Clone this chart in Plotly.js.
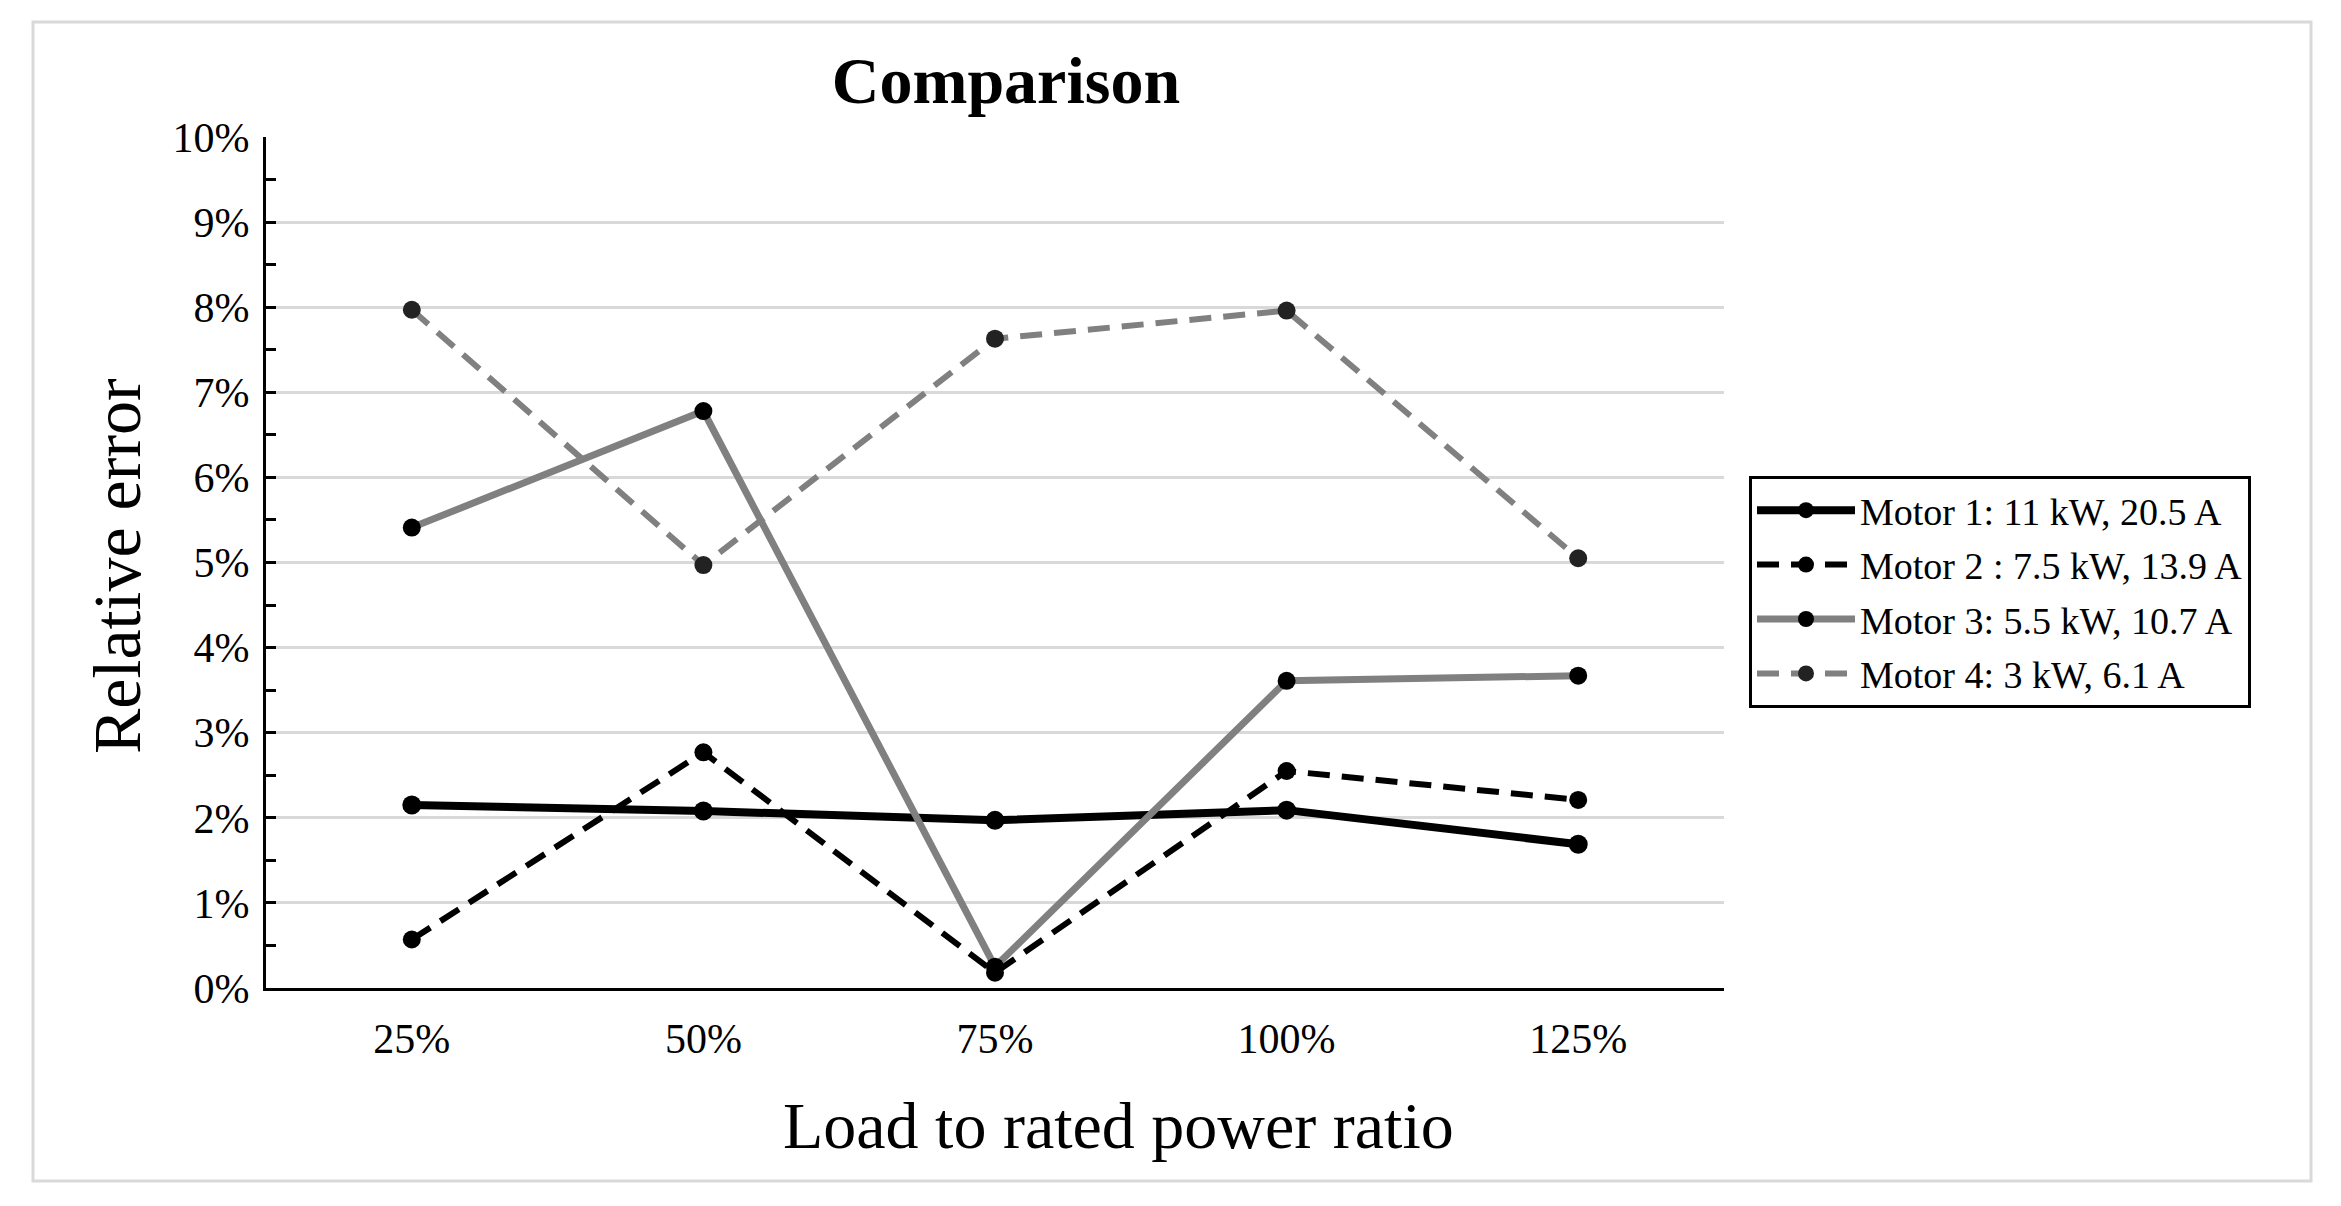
<!DOCTYPE html>
<html>
<head>
<meta charset="utf-8">
<script src="https://cdn.plot.ly/plotly-3.0.1.min.js"></script>
<style>html,body{margin:0;padding:0;background:#fff;}#chart{width:2341px;height:1206px;}</style>
</head>
<body>
<div id="chart"></div>
<script>
const categories = ['25%', '50%', '75%', '100%', '125%'];
const motor1 = [2.15, 2.08, 1.97, 2.09, 1.69];
const motor2 = [0.57, 2.77, 0.18, 2.55, 2.21];
const motor3 = [5.41, 6.78, 0.25, 3.61, 3.67];
const motor4 = [7.97, 4.97, 7.63, 7.96, 5.05];
const seriesNames = ['Motor 1: 11 kW, 20.5 A', 'Motor 2 : 7.5 kW, 13.9 A', 'Motor 3: 5.5 kW, 10.7 A', 'Motor 4: 3 kW, 6.1 A'];
const yTicks = [0,1,2,3,4,5,6,7,8,9,10];

const font = 'Liberation Serif, Times New Roman, serif';

const traces = [
  {x: categories, y: motor1, name: seriesNames[0], legendgroup: 'g1', mode: 'lines+markers',
   line: {color: '#000000', width: 8}, marker: {color: '#000000', size: 19}},
  {x: categories, y: motor2, name: seriesNames[1], legendgroup: 'g2', mode: 'lines+markers',
   line: {color: '#000000', width: 6, dash: '22px,12px'}, marker: {color: '#000000', size: 18}},
  {x: categories, y: motor3, name: seriesNames[2], legendgroup: 'g3', mode: 'lines+markers',
   line: {color: '#808080', width: 7}, marker: {color: '#000000', size: 18}},
  {x: categories, y: motor4, name: seriesNames[3], legendgroup: 'g4', mode: 'lines+markers',
   line: {color: '#808080', width: 6, dash: '22px,12px'}, marker: {color: '#222222', size: 18}}
];

const layout = {
  width: 2341, height: 1206,
  margin: {l: 266, r: 617, t: 137, b: 218},
  paper_bgcolor: '#ffffff', plot_bgcolor: '#ffffff',
  font: {family: font, color: '#000000'},
  title: {text: '<b>Comparison</b>', font: {family: font, size: 66, color: '#000'},
          x: 0.5075, xref: 'paper', y: 1 - 80/1206, yref: 'container', yanchor: 'middle', xanchor: 'center'},
  xaxis: {type: 'category', range: [-0.5, 4.5], showgrid: false, zeroline: false,
          showline: true, linecolor: '#000', linewidth: 3, ticks: '',
          tickfont: {family: font, size: 42}, ticklabelstandoff: 12},
  yaxis: {range: [0, 10], tickvals: yTicks, ticktext: yTicks.map(v => v + '%'),
          showgrid: true, gridcolor: '#d9d9d9', gridwidth: 3, zeroline: false,
          showline: true, linecolor: '#000', linewidth: 3,
          ticks: 'inside', ticklen: 10, tickwidth: 3, tickcolor: '#000',
          minor: {dtick: 0.5, ticks: 'inside', ticklen: 10, tickwidth: 3, tickcolor: '#000', showgrid: false},
          tickfont: {family: font, size: 42}, ticklabelstandoff: 5},
  annotations: [
    {text: 'Load to rated power ratio', xref: 'paper', yref: 'paper',
     x: (1118-266)/1458, y: (988-1125)/851, xanchor: 'center', yanchor: 'middle',
     showarrow: false, font: {family: font, size: 66, color: '#000'}},
    {text: 'Relative error', xref: 'paper', yref: 'paper', textangle: -90,
     x: (117-266)/1458, y: (988-566)/851, xanchor: 'center', yanchor: 'middle',
     showarrow: false, font: {family: font, size: 68, color: '#000'}}
  ],
  showlegend: true,
  legend: {x: (1749-266)/1458, y: (988-476)/851, xanchor: 'left', yanchor: 'top',
           xref: 'paper', yref: 'paper', traceorder: 'grouped',
           bordercolor: '#000', borderwidth: 3, bgcolor: '#fff',
           font: {family: font, size: 38}, itemwidth: 98, tracegroupgap: 2},
  shapes: [{type: 'rect', xref: 'paper', yref: 'paper', layer: 'below',
            x0: (33-266)/1458, x1: (2311-266)/1458, y0: (988-1181)/851, y1: (988-22)/851,
            line: {color: '#d9d9d9', width: 3}, fillcolor: 'rgba(0,0,0,0)'}]
};

Plotly.newPlot('chart', traces, layout, {displayModeBar: false, staticPlot: true});
</script>
</body>
</html>
